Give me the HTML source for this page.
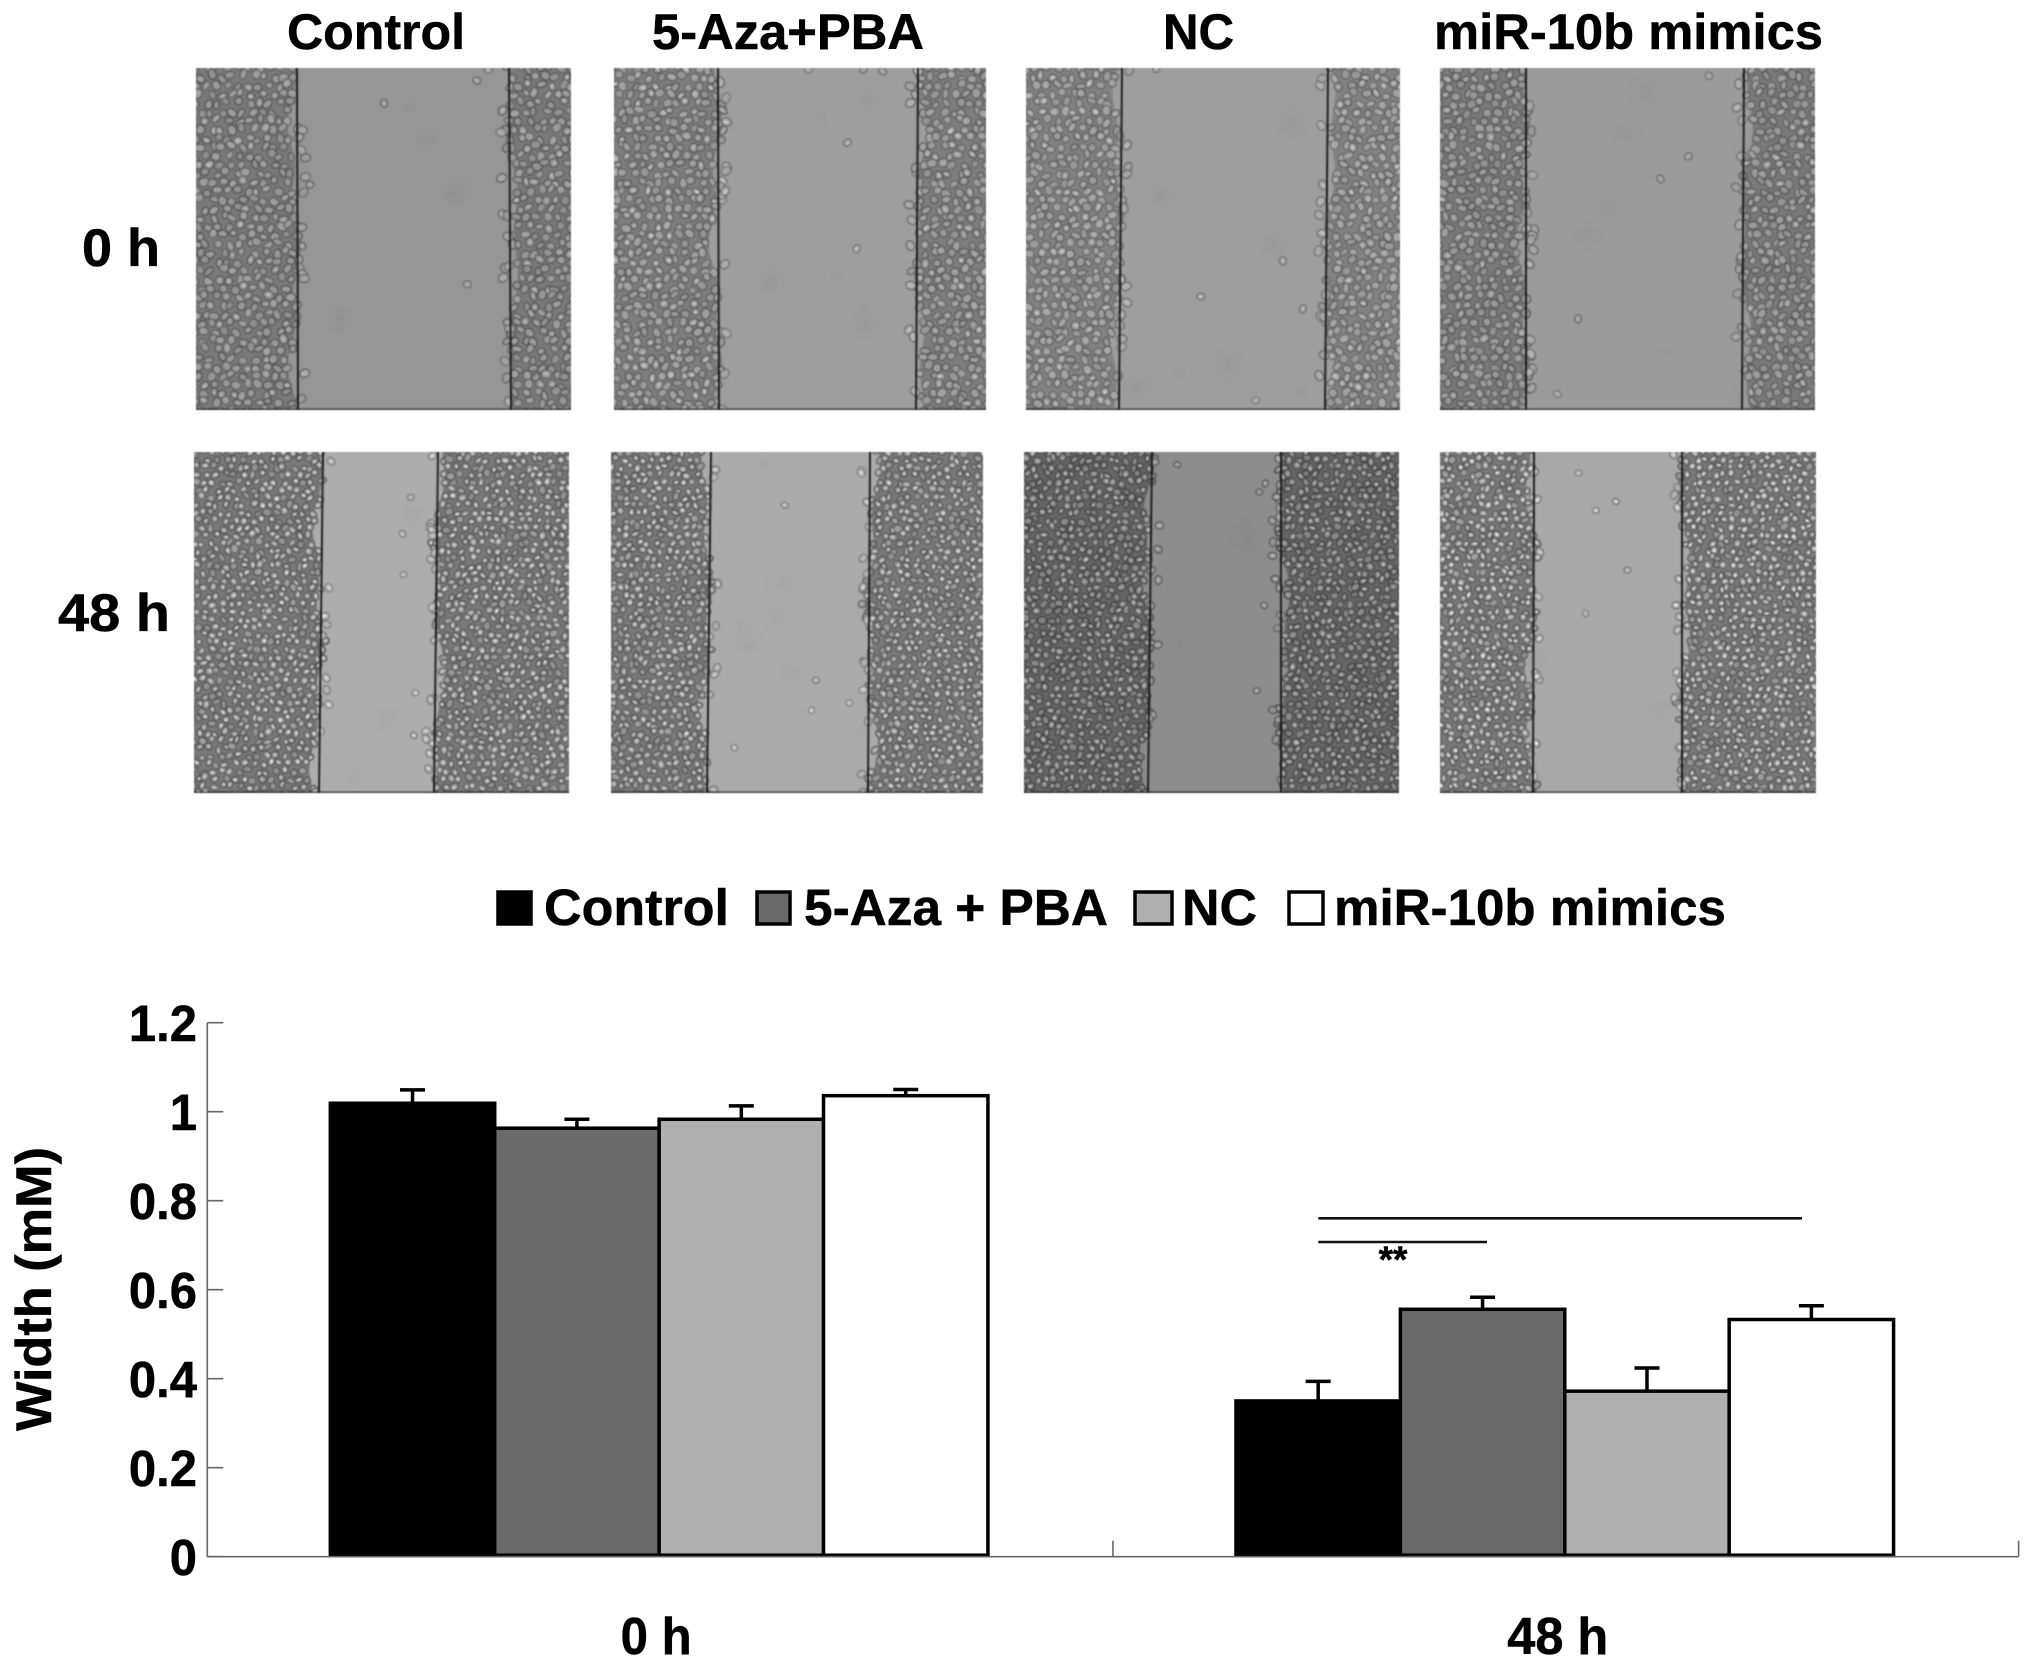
<!DOCTYPE html>
<html lang="en">
<head>
<meta charset="utf-8">
<title>Wound healing assay</title>
<style>
html,body{margin:0;padding:0;background:#fff;}
#page{position:relative;width:2031px;height:1667px;overflow:hidden;background:#fff;}
canvas{position:absolute;display:block;filter:blur(0.6px);}
#overlay{position:absolute;left:0;top:0;}
text{font-family:"Liberation Sans",Arial,sans-serif;font-weight:700;fill:#000;stroke:#000;stroke-width:0.5;}
.s0{fill:#000;}
.s1{fill:#6a6a6a;}
.s2{fill:#afafaf;}
.s3{fill:#fff;}
.bar,.swatch{stroke:#000;stroke-width:3.5;}
.err{stroke:#000;stroke-width:3.5;fill:none;}
.axis{stroke:#666;stroke-width:1.6;fill:none;}
.sig{stroke:#111;stroke-width:2.6;}
</style>
</head>
<body>
<div id="page">

<canvas class="micro" width="375" height="342" style="left:196px;top:68px" data-edges="101,102,313,315" data-tones="150,128,195,11,1,0"></canvas>
<canvas class="micro" width="372" height="342" style="left:614px;top:68px" data-edges="104,105,304,302" data-tones="158,132,210,11,2,0"></canvas>
<canvas class="micro" width="374" height="342" style="left:1026px;top:68px" data-edges="96,93,302,299" data-tones="158,136,210,11,3,0"></canvas>
<canvas class="micro" width="375" height="342" style="left:1440px;top:68px" data-edges="86,86,304,302" data-tones="155,128,195,11,4,0"></canvas>
<canvas class="micro" width="375" height="341" style="left:194px;top:452px" data-edges="129,125,244,240" data-tones="172,128,238,9.5,5,1"></canvas>
<canvas class="micro" width="372" height="341" style="left:611px;top:452px" data-edges="100,96,259,257" data-tones="170,128,232,9.5,6,1"></canvas>
<canvas class="micro" width="375" height="341" style="left:1024px;top:452px" data-edges="128,124,257,257" data-tones="140,108,200,9.5,7,1"></canvas>
<canvas class="micro" width="376" height="341" style="left:1440px;top:452px" data-edges="94,93,242,242" data-tones="168,128,245,9.5,8,1"></canvas>

<svg id="overlay" width="2031" height="1667" viewBox="0 0 2031 1667" xmlns="http://www.w3.org/2000/svg">
  <g font-size="50">
    <text x="287" y="49" textLength="178" lengthAdjust="spacingAndGlyphs">Control</text>
    <text x="652" y="49" textLength="272" lengthAdjust="spacingAndGlyphs">5-Aza+PBA</text>
    <text x="1163" y="49" textLength="71" lengthAdjust="spacingAndGlyphs">NC</text>
    <text x="1434" y="49" textLength="389" lengthAdjust="spacingAndGlyphs">miR-10b mimics</text>
  </g>
  <g font-size="53">
    <text x="82" y="266" textLength="78" lengthAdjust="spacingAndGlyphs">0 h</text>
    <text x="58" y="631" textLength="112" lengthAdjust="spacingAndGlyphs">48 h</text>
  </g>
  <g font-size="51">
    <rect class="swatch s0" x="498" y="892" width="33" height="32"/>
    <text x="544" y="925" textLength="185" lengthAdjust="spacingAndGlyphs">Control</text>
    <rect class="swatch s1" x="757" y="892" width="33" height="32"/>
    <text x="804" y="925" textLength="304" lengthAdjust="spacingAndGlyphs">5-Aza + PBA</text>
    <rect class="swatch s2" x="1135" y="892" width="37" height="32"/>
    <text x="1182" y="925" textLength="75" lengthAdjust="spacingAndGlyphs">NC</text>
    <rect class="swatch s3" x="1289" y="892" width="34" height="32"/>
    <text x="1334" y="925" textLength="392" lengthAdjust="spacingAndGlyphs">miR-10b mimics</text>
  </g>
  <g id="chart"></g>
  <text transform="translate(51,1431) rotate(-90)" font-size="50" textLength="284" lengthAdjust="spacingAndGlyphs">Width (mM)</text>
  <g>
    <line class="sig" x1="1318.3" x2="1802" y1="1218.3" y2="1218.3"/>
    <line class="sig" x1="1318.3" x2="1487" y1="1242" y2="1242"/>
    <text x="1393" y="1272" text-anchor="middle" font-size="37">**</text>
  </g>
</svg>
</div>

<script>
/* ---------- chart data ---------- */
const groups = ["0 h", "48 h"];
const seriesNames = ["control", "aza-pba", "nc", "mimics"];
const controlValues = [1.019, 0.350];
const azaValues = [0.963, 0.556];
const ncValues = [0.983, 0.372];
const mimicsValues = [1.036, 0.533];
const controlErrors = [0.030, 0.044];
const azaErrors = [0.020, 0.027];
const ncErrors = [0.030, 0.052];
const mimicsErrors = [0.014, 0.031];
const yTicks = [0, 0.2, 0.4, 0.6, 0.8, 1, 1.2];
const yTickLabels = ["0", "0.2", "0.4", "0.6", "0.8", "1", "1.2"];

const seriesValues = [controlValues, azaValues, ncValues, mimicsValues];
const seriesErrors = [controlErrors, azaErrors, ncErrors, mimicsErrors];

/* ---------- axis functions ---------- */
const plotLeft = 207.3, plotRight = 2018.6, plotBase = 1556.7, plotPerUnit = 445;
const bandWidth = (plotRight - plotLeft) / groups.length;
const barWidth = 164.4;
function yScale(v) { return plotBase - v * plotPerUnit; }
function groupCenter(g) { return plotLeft + (g + 0.5) * bandWidth - 1; }
function barLeft(g, s) { return groupCenter(g) + (s - seriesNames.length / 2) * barWidth; }

const NS = "http://www.w3.org/2000/svg";
const chart = document.getElementById("chart");
function make(tag, attrs, parent) {
  const node = document.createElementNS(NS, tag);
  for (const k in attrs) node.setAttribute(k, attrs[k]);
  parent.appendChild(node);
  return node;
}

/* axes */
const yAxisLine = make("line", {class:"axis", x1:plotLeft, x2:plotLeft, y1:yScale(1.2), y2:plotBase}, chart);


yTicks.forEach(function (t, i) {
  const tick = make("line", {class:"axis", x1:plotLeft, x2:plotLeft + 16, y1:yScale(t), y2:yScale(t)}, chart);
  
  
  const label = make("text", {"font-size":51, "text-anchor":"end",
    transform:"translate(197," + (yScale(t) + 18.5) + ") scale(0.96,1)"}, chart);
  label.textContent = yTickLabels[i];
  
  
});

/* bars first so that axis baseline stays readable */
groups.forEach(function (name, g) {
  seriesNames.forEach(function (sn, s) {
    const v = seriesValues[s][g];
    const e = seriesErrors[s][g];
    const x = barLeft(g, s);
    const cx = x + barWidth / 2;
    const stem = make("line", {class:"err", x1:cx, x2:cx, y1:yScale(v + e), y2:yScale(v)}, chart);
    
    
    const cap = make("line", {class:"err", x1:cx - 12.5, x2:cx + 12.5, y1:yScale(v + e), y2:yScale(v + e)}, chart);
    
    
    const bar = make("rect", {class:"bar s" + s, x:x, y:yScale(v), width:barWidth, height:yScale(0) - yScale(v) - 1.5}, chart);
    
    
  });
  const gl = make("text", {"font-size":52, "text-anchor":"middle", x:groupCenter(g) - 3 + g * -4, y:1654,
    textLength: g === 0 ? 71 : 101, lengthAdjust:"spacingAndGlyphs"}, chart);
  gl.textContent = name;
  
  
});

const xAxisLine = make("line", {class:"axis", x1:plotLeft, x2:plotRight, y1:plotBase, y2:plotBase}, chart);


for (let g = 1; g <= groups.length; g++) {
  const xt = plotLeft + g * bandWidth;
  const tk = make("line", {class:"axis", x1:xt, x2:xt, y1:plotBase - 16, y2:plotBase}, chart);
  
  
}

/* ---------- micrograph texture (decorative, seeded) ---------- */
function rng(seed) {
  let s = seed * 2654435761 >>> 0;
  return function () {
    s = (s + 0x6D2B79F5) >>> 0;
    let t = s;
    t = Math.imul(t ^ (t >>> 15), t | 1);
    t ^= t + Math.imul(t ^ (t >>> 7), t | 61);
    return ((t ^ (t >>> 14)) >>> 0) / 4294967296;
  };
}
function gray(v, a) {
  v = Math.max(0, Math.min(255, Math.round(v)));
  return "rgba(" + v + "," + v + "," + v + "," + (a === undefined ? 1 : a) + ")";
}
function cell(ctx, x, y, rx, ry, rot, base, spot, bright, r) {
  ctx.beginPath();
  ctx.ellipse(x, y, rx, ry, rot, 0, 6.283);
  ctx.fillStyle = gray(base + 14 + r() * 18);
  ctx.fill();
  ctx.lineWidth = 1.4;
  ctx.strokeStyle = gray(base - 36 - r() * 22, 0.75);
  ctx.stroke();
  if (r() < (bright ? 0.75 : 0.3)) {
    ctx.beginPath();
    ctx.ellipse(x + r() - 0.5, y + r() - 0.5, rx * 0.42, ry * 0.42, rot, 0, 6.283);
    ctx.fillStyle = gray(spot - r() * 40, 0.7 + r() * 0.3);
    ctx.fill();
  }
}
document.querySelectorAll("canvas.micro").forEach(function (cv) {
  const ctx = cv.getContext("2d");
  const W = cv.width, H = cv.height;
  const E = cv.getAttribute("data-edges").split(",").map(Number);
  const T = cv.getAttribute("data-tones").split(",").map(Number);
  const gap = T[0], base = T[1], spot = T[2], size = T[3], bright = T[5];
  const r = rng(T[4] * 97 + 13);

  ctx.fillStyle = gray(gap);
  ctx.fillRect(0, 0, W, H);
  /* soft blotches in the wound */
  for (let i = 0; i < 10; i++) {
    const bx = r() * W, by = r() * H, br = 6 + r() * 14;
    const gr = ctx.createRadialGradient(bx, by, 0, bx, by, br);
    gr.addColorStop(0, gray(gap - 9, 0.4));
    gr.addColorStop(1, gray(gap - 9, 0));
    ctx.fillStyle = gr;
    ctx.fillRect(bx - br, by - br, br * 2, br * 2);
  }
  function lineL(y) { return E[0] + (E[1] - E[0]) * y / H; }
  function lineR(y) { return E[2] + (E[3] - E[2]) * y / H; }
  const ph1 = r() * 6, ph2 = r() * 6;
  function edgeL(y) { return lineL(y) + 4 * Math.sin(y / 37 + ph1) + 3 * Math.sin(y / 13 + ph2); }
  function edgeR(y) { return lineR(y) - 4 * Math.sin(y / 41 + ph2) - 3 * Math.sin(y / 15 + ph1); }

  /* cell sheet backing */
  ctx.fillStyle = gray(base - 6);
  ctx.beginPath();
  ctx.moveTo(0, 0);
  for (let y = 0; y <= H; y += 4) ctx.lineTo(edgeL(y) - 3, y);
  ctx.lineTo(0, H);
  ctx.closePath();
  ctx.fill();
  ctx.beginPath();
  ctx.moveTo(W, 0);
  for (let y = 0; y <= H; y += 4) ctx.lineTo(edgeR(y) + 3, y);
  ctx.lineTo(W, H);
  ctx.closePath();
  ctx.fill();

  /* cells */
  const sx = size * 0.95, sy = size * 0.8;
  for (let j = 0; j * sy < H + sy; j++) {
    for (let i = 0; i * sx < W + sx; i++) {
      const x = i * sx + (j % 2 ? sx / 2 : 0) + (r() - 0.5) * sx * 0.6;
      const y = j * sy + (r() - 0.5) * sy * 0.6;
      const inside = x < edgeL(y) || x > edgeR(y);
      if (!inside) { r(); r(); r(); continue; }
      const rx = size * (0.33 + r() * 0.16);
      const ry = size * (0.26 + r() * 0.14);
      const rot = r() * 3.14;
      cell(ctx, x, y, rx, ry, rot, base, spot, bright, r);
    }
  }
  /* cells straggling over the wound edge */
  for (let i = 0; i < 26; i++) {
    const y = r() * H;
    const left = r() < 0.5;
    const x = left ? lineL(y) + r() * 9 : lineR(y) - r() * 9;
    cell(ctx, x, y, size * 0.36, size * 0.46, r() * 3, gap - 12, spot, bright, r);
  }
  /* detached cells */
  for (let i = 0; i < 5; i++) {
    const y = r() * H;
    const l = lineL(y), rr = lineR(y);
    const x = l + 10 + r() * (rr - l - 20);
    cell(ctx, x, y, size * 0.3, size * 0.36, r() * 3, gap - 8, spot, bright, r);
  }
  /* scratch reference lines */
  ctx.strokeStyle = "#151515";
  ctx.lineWidth = 1.8;
  ctx.beginPath();
  ctx.moveTo(E[0], 0);
  ctx.lineTo(E[1], H);
  ctx.moveTo(E[2], 0);
  ctx.lineTo(E[3], H);
  ctx.stroke();
  ctx.fillStyle = "rgba(40,40,40,0.8)";
  ctx.fillRect(0, H - 1.5, W, 1.5);
});
</script>
</body>
</html>
